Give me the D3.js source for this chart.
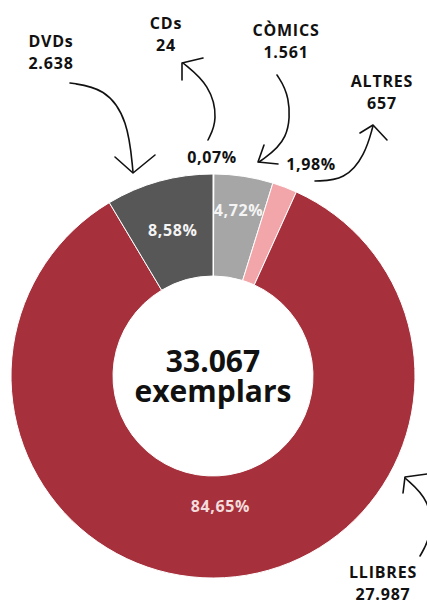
<!DOCTYPE html>
<html>
<head>
<meta charset="utf-8">
<script src="https://cdn.jsdelivr.net/npm/d3@7"></script>
<style>
  body { margin:0; background:#fff; }
  text { font-family:"Open Sans", sans-serif; font-weight:700; }
</style>
</head>
<body>
<div id="plot"></div>
<script>
// data, clockwise from 12 o'clock
var categories = ['CDs', 'CÒMICS', 'ALTRES', 'LLIBRES', 'DVDs'];
var counts = ['24', '1.561', '657', '27.987', '2.638'];
var shares = [0.07, 4.72, 1.98, 84.65, 8.58];
var shareLabels = ['0,07%', '4,72%', '1,98%', '84,65%', '8,58%'];
var totalLabel = ['33.067', 'exemplars'];

var colors = ['#dcdcdc', '#a6a6a6', '#f2a6a9', '#a6303b', '#575757'];

var width = 427, height = 604;
var cx = 213, cy = 376, rOut = 202, rIn = 100;

var svg = d3.select('#plot')
  .append('svg')
  .attr('width', width)
  .attr('height', height);

var donut = svg.append('g')
  .attr('transform', 'translate(' + cx + ',' + cy + ')');

var pie = d3.pie().sort(null).value(function(d){ return d; });
var arcs = pie(shares);

var arc = d3.arc().innerRadius(rIn).outerRadius(rOut);

donut.selectAll('path')
  .data(arcs)
  .enter()
  .append('path')
  .attr('d', arc)
  .style('fill', function(d,i){ return colors[i]; })
  .style('stroke', '#fff')
  .style('stroke-width', 1);

// percent labels inside the ring (LLIBRES, DVDs, CÒMICS)
var inside = [
  {i:1, r:168, fill:'#f4f4f4'},
  {i:3, r:131, fill:'#f3dcdc'},
  {i:4, r:151, fill:'#f4f4f4'}
];
inside.forEach(function(o){
  var a = (arcs[o.i].startAngle + arcs[o.i].endAngle) / 2;
  donut.append('text')
    .attr('x', o.r * Math.sin(a))
    .attr('y', -o.r * Math.cos(a))
    .attr('dy', '0.35em')
    .attr('text-anchor', 'middle')
    .style('font-size', '16px')
    .style('letter-spacing', '0.6px')
    .style('fill', o.fill)
    .text(shareLabels[o.i]);
});

// small slices get their percent outside
svg.append('text').attr('x', 212).attr('y', 163).attr('text-anchor', 'middle')
  .style('font-size', '16px').style('letter-spacing', '0.6px')
  .style('fill', '#111').text(shareLabels[0]);
svg.append('text').attr('x', 311).attr('y', 170).attr('text-anchor', 'middle')
  .style('font-size', '16px').style('letter-spacing', '0.6px')
  .style('fill', '#111').text(shareLabels[2]);

// centre total
var total = svg.append('text').attr('text-anchor', 'middle')
  .style('font-size', '30px').style('fill', '#111');
total.append('tspan').attr('x', cx).attr('y', 372).text(totalLabel[0]);
total.append('tspan').attr('x', cx).attr('dy', 30).text(totalLabel[1]);

// category name + count labels
var labelPos = [
  {x:166, y:29},   // CDs
  {x:286, y:36},   // CÒMICS
  {x:382, y:87},   // ALTRES
  {x:383, y:578},  // LLIBRES
  {x:51,  y:47}    // DVDs
];
labelPos.forEach(function(p,i){
  var t = svg.append('text')
    .attr('text-anchor', 'middle')
    .style('font-size', '16px')
    .style('letter-spacing', '0.8px')
    .style('fill', '#111');
  t.append('tspan').attr('x', p.x).attr('y', p.y).text(categories[i]);
  t.append('tspan').attr('x', p.x).attr('dy', 22).text(counts[i]);
});

// hand drawn arrows
var line = d3.line().curve(d3.curveBasis);
var arrows = [
  {pts:[[70,83],[105,88],[128,120],[133,172]], head:[[115,157],[133,173],[155,155]]},
  {pts:[[208,140],[218,120],[210,85],[183,63]], head:[[203,58],[182,63],[182,80]]},
  {pts:[[277,75],[290,95],[290,140],[259,162]], head:[[264,145],[258,162],[278,164]]},
  {pts:[[315,181],[345,180],[365,155],[373,126]], head:[[360,133],[373,125],[387,140]]},
  {pts:[[420,556],[432,535],[430,500],[405,478]], head:[[403,493],[405,477],[427,474]]}
];
arrows.forEach(function(a){
  svg.append('path').attr('d', line(a.pts))
    .style('fill', 'none').style('stroke', '#111').style('stroke-width', 1.6)
    .style('stroke-linecap', 'round');
  svg.append('path').attr('d', d3.line()(a.head))
    .style('fill', 'none').style('stroke', '#111').style('stroke-width', 1.6)
    .style('stroke-linecap', 'round').style('stroke-linejoin', 'round');
});
</script>
</body>
</html>
